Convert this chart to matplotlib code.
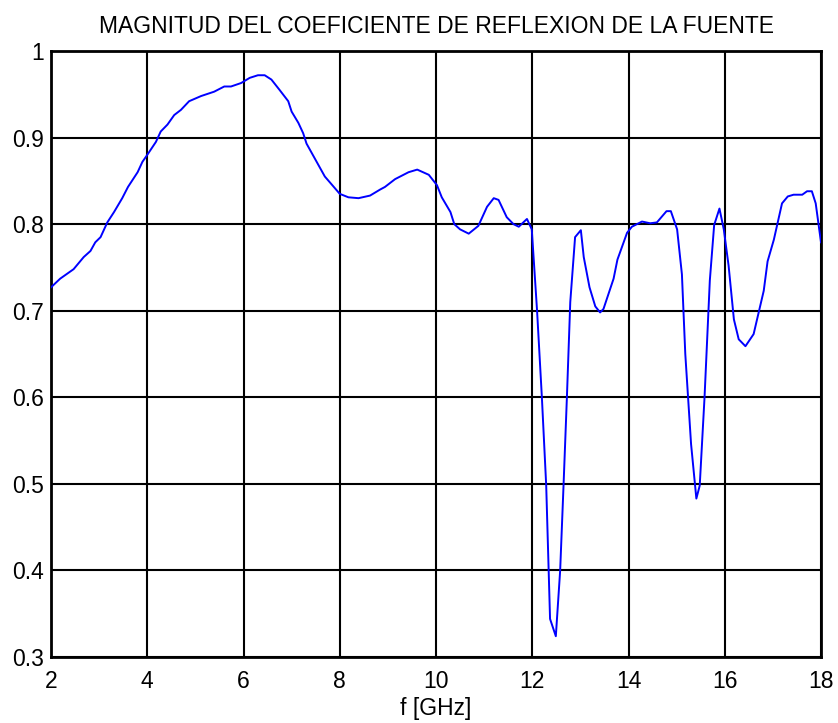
import matplotlib
matplotlib.use("Agg")
import matplotlib.pyplot as plt

freq_ghz = [2.00, 2.19, 2.47, 2.68, 2.82, 2.92, 3.03, 3.17, 3.31, 3.48, 3.60, 3.80, 3.90, 4.00,
            4.18, 4.28, 4.42, 4.56, 4.70, 4.87, 5.12, 5.39, 5.60, 5.74, 5.95, 6.13, 6.30, 6.44,
            6.58, 6.75, 6.93, 7.00, 7.14, 7.24, 7.31, 7.48, 7.69, 7.83, 8.00, 8.18, 8.39, 8.63,
            8.84, 8.94, 9.15, 9.43, 9.61, 9.85, 10.02, 10.12, 10.30, 10.38, 10.50, 10.68, 10.88,
            11.06, 11.20, 11.30, 11.47, 11.61, 11.72, 11.89, 11.99, 12.10, 12.20, 12.29, 12.37,
            12.49, 12.58, 12.65, 12.72, 12.79, 12.89, 13.01, 13.07, 13.19, 13.31, 13.41, 13.48,
            13.69, 13.77, 13.97, 14.07, 14.28, 14.45, 14.59, 14.79, 14.88, 15.01, 15.11, 15.18,
            15.30, 15.41, 15.48, 15.58, 15.69, 15.78, 15.89, 15.98, 16.08, 16.19, 16.29, 16.43,
            16.60, 16.81, 16.89, 17.02, 17.19, 17.31, 17.43, 17.61, 17.71, 17.81, 17.89, 18.00]
magnitude = [0.727, 0.737, 0.748, 0.762, 0.769, 0.779, 0.785, 0.802, 0.814, 0.830, 0.843, 0.860,
             0.872, 0.880, 0.895, 0.907, 0.915, 0.926, 0.932, 0.942, 0.948, 0.953, 0.959, 0.959,
             0.963, 0.969, 0.972, 0.972, 0.967, 0.955, 0.942, 0.930, 0.917, 0.905, 0.893, 0.876,
             0.855, 0.846, 0.835, 0.831, 0.830, 0.833, 0.840, 0.843, 0.852, 0.860, 0.863, 0.857,
             0.845, 0.831, 0.814, 0.800, 0.794, 0.789, 0.798, 0.820, 0.830, 0.828, 0.808, 0.800,
             0.797, 0.806, 0.794, 0.700, 0.600, 0.498, 0.344, 0.324, 0.400, 0.498, 0.600, 0.710,
             0.785, 0.793, 0.762, 0.727, 0.705, 0.698, 0.702, 0.737, 0.759, 0.790, 0.797, 0.803,
             0.801, 0.802, 0.815, 0.815, 0.794, 0.742, 0.650, 0.546, 0.483, 0.498, 0.600, 0.735,
             0.799, 0.818, 0.794, 0.752, 0.690, 0.667, 0.659, 0.673, 0.723, 0.757, 0.782, 0.824,
             0.832, 0.834, 0.834, 0.838, 0.838, 0.824, 0.779]

x_ticks = [2, 4, 6, 8, 10, 12, 14, 16, 18]
y_ticks = [0.3, 0.4, 0.5, 0.6, 0.7, 0.8, 0.9, 1.0]
y_tick_labels = ["0.3", "0.4", "0.5", "0.6", "0.7", "0.8", "0.9", "1"]

plt.rcParams['font.family'] = ['Liberation Sans', 'DejaVu Sans']

fig = plt.figure(figsize=(8.38, 7.23), dpi=100)
ax = fig.add_axes([51 / 838, 1 - 657 / 723, 770 / 838, 606 / 723])

ax.plot(freq_ghz, magnitude, color='#0000ff', linewidth=1.4, zorder=3)

ax.set_xlim(2, 18)
ax.set_ylim(0.3, 1.0)
ax.set_xticks(x_ticks)
ax.set_xticklabels([str(t) for t in x_ticks])
ax.set_yticks(y_ticks)
ax.set_yticklabels(y_tick_labels)

ax.grid(True, color='black', linewidth=1.5, linestyle='-')
ax.set_axisbelow(True)
for s in ax.spines.values():
    s.set_linewidth(2.0)
    s.set_color('black')
ax.tick_params(direction='in', length=0, labelsize=16.5, colors='black')
ax.tick_params(axis='x', pad=9)
ax.tick_params(axis='y', pad=5)

ax.set_title("MAGNITUD DEL COEFICIENTE DE REFLEXION DE LA FUENTE", fontsize=16.5, pad=13)
ax.set_xlabel("f [GHz]", fontsize=16.5, labelpad=3)

fig.savefig("out.png", dpi=100)
